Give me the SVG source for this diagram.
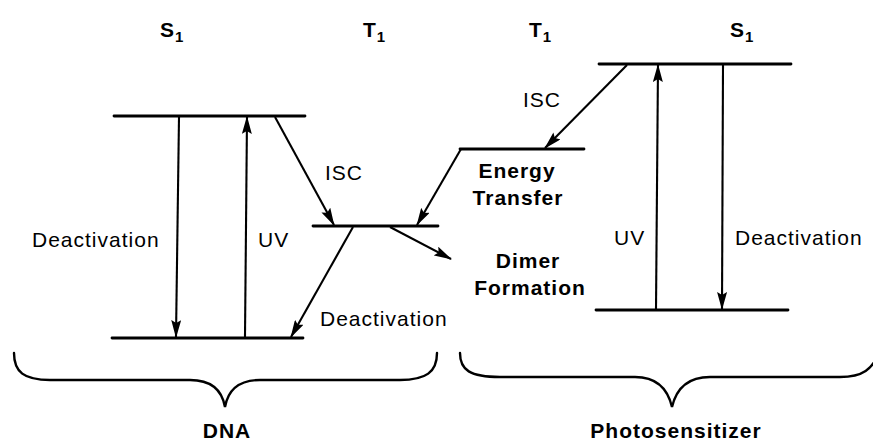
<svg xmlns="http://www.w3.org/2000/svg" width="873" height="442" viewBox="0 0 873 442">
<style>
.lvl{stroke:#000;stroke-width:2.8;fill:none;stroke-linecap:round}
.arr{stroke:#000;stroke-width:2.1;fill:none;marker-end:url(#ah)}
.br{stroke:#000;stroke-width:2.4;fill:none;stroke-linecap:round}
text{font-family:"Liberation Sans",Arial,sans-serif;font-size:21px;fill:#000;letter-spacing:1px}
.b{font-weight:bold}
.sub{font-size:15px}
</style>
<defs>
<marker id="ah" viewBox="0 0 18 10" refX="17" refY="5" markerWidth="18" markerHeight="10" markerUnits="userSpaceOnUse" orient="auto">
<path d="M0,0 L18,5 L0,10 L3,5 Z" fill="#000"/>
</marker>
</defs>
<rect width="873" height="442" fill="#fff"/>
<g id="dna-s1"><line class="lvl" x1="114" y1="116" x2="305" y2="116"/><text class="b" x="160" y="37">S<tspan class="sub" dy="5">1</tspan></text></g>
<g id="dna-s0"><line class="lvl" x1="112" y1="338" x2="303" y2="338"/></g>
<g id="dna-t1"><line class="lvl" x1="313" y1="226" x2="438" y2="226"/><text class="b" x="363" y="37">T<tspan class="sub" dy="5">1</tspan></text></g>
<g id="ps-t1"><line class="lvl" x1="460" y1="149" x2="584" y2="149"/><text class="b" x="529" y="37">T<tspan class="sub" dy="5">1</tspan></text></g>
<g id="ps-s1"><line class="lvl" x1="599" y1="64" x2="791" y2="64"/><text class="b" x="730" y="37">S<tspan class="sub" dy="5">1</tspan></text></g>
<g id="ps-s0"><line class="lvl" x1="596" y1="310" x2="788" y2="310"/></g>
<g id="connectors">
<line class="arr" x1="179" y1="117" x2="176" y2="337"/>
<line class="arr" x1="245" y1="337" x2="247" y2="117"/>
<line class="arr" x1="275" y1="117" x2="334" y2="225"/>
<line class="arr" x1="353" y1="227" x2="291" y2="337"/>
<line class="arr" x1="390" y1="227" x2="451" y2="259"/>
<line class="arr" x1="461" y1="149" x2="417" y2="225"/>
<line class="arr" x1="627" y1="65" x2="545" y2="148"/>
<line class="arr" x1="656" y1="309" x2="658" y2="65"/>
<line class="arr" x1="723" y1="65" x2="722" y2="309"/>
</g>
<g id="labels">
<text x="32" y="247">Deactivation</text>
<text x="258" y="247">UV</text>
<text x="325" y="180">ISC</text>
<text x="320" y="326">Deactivation</text>
<text x="523" y="107">ISC</text>
<text class="b" x="517" y="178" text-anchor="middle">Energy</text>
<text class="b" x="518" y="205" text-anchor="middle">Transfer</text>
<text class="b" x="528" y="268" text-anchor="middle">Dimer</text>
<text class="b" x="530" y="295" text-anchor="middle">Formation</text>
<text x="614" y="245">UV</text>
<text x="735" y="245">Deactivation</text>
</g>
<g id="dna-brace"><path class="br" d="M14,353 C14,372 24,380 50,380 L190,380 C212,380 222,390 225,407 C228,390 238,380 260,380 L400,380 C426,380 437,372 437,353"/><text class="b" x="227" y="438" text-anchor="middle">DNA</text></g>
<g id="ps-brace"><path class="br" d="M460,353 C460,370 470,377 500,377 L635,377 C658,377 668,390 672,407 C676,390 686,377 710,377 L840,377 C862,377 873,370 880,350"/><text class="b" x="676" y="438" text-anchor="middle">Photosensitizer</text></g>
</svg>
